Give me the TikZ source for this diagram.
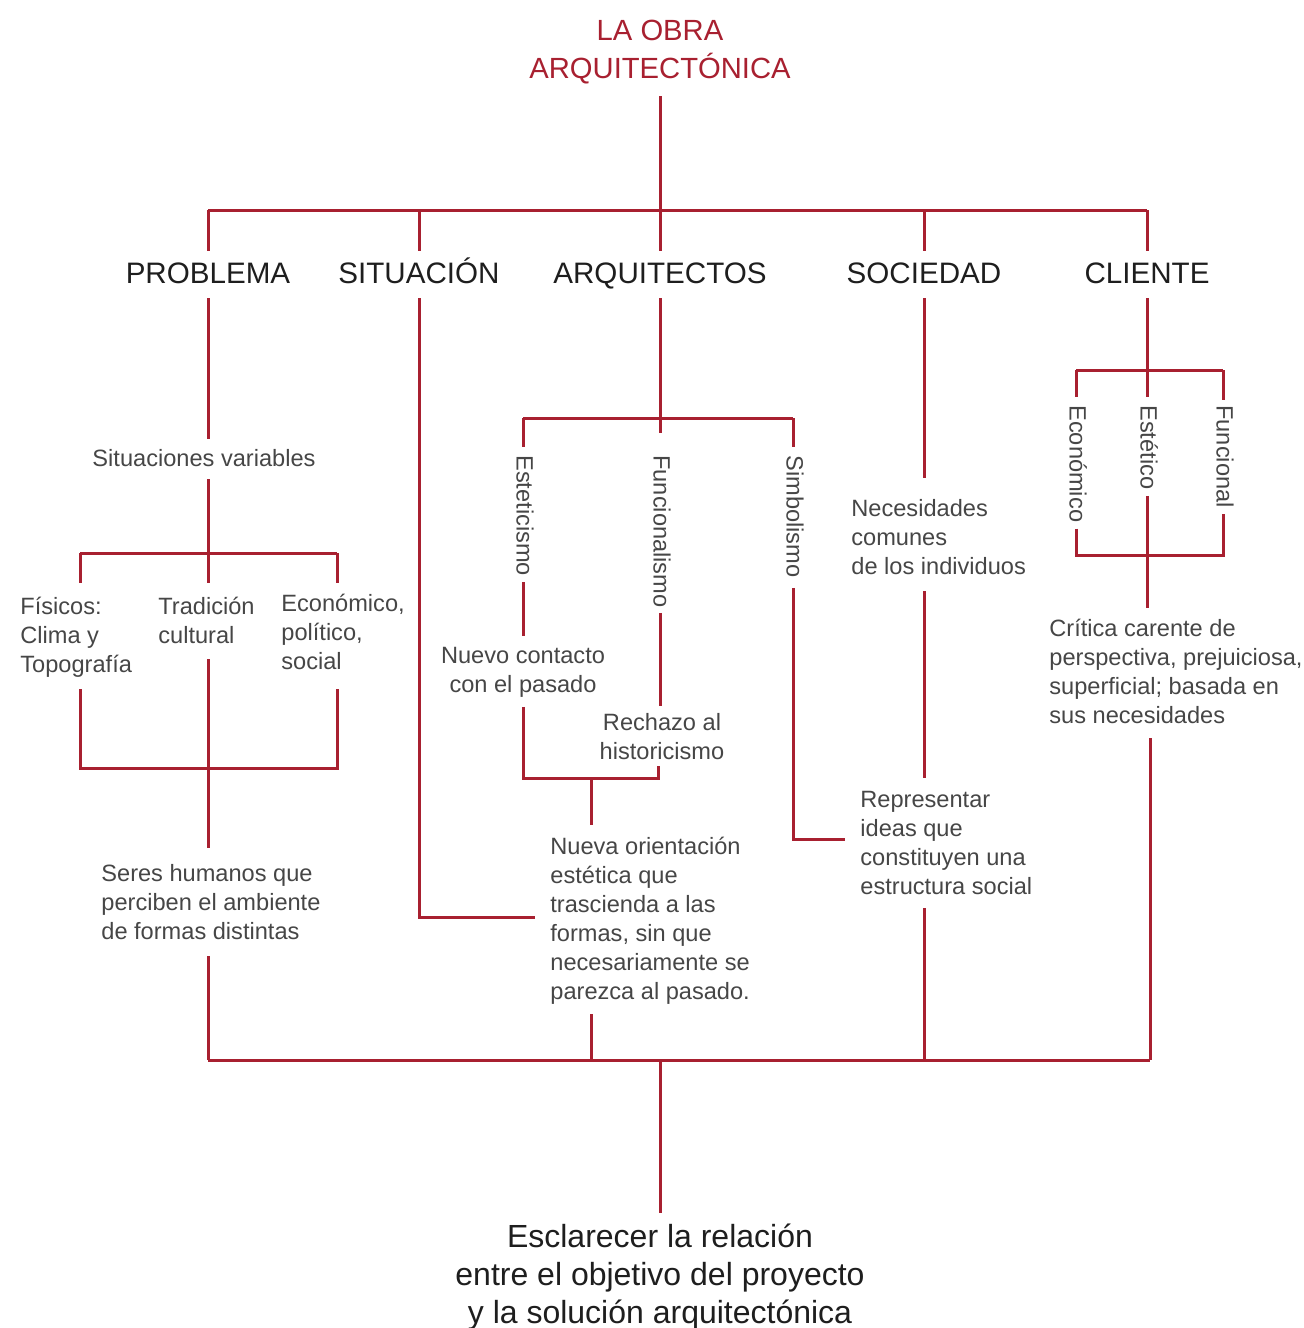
\documentclass[tikz,border=0pt]{standalone}
\usepackage{fontspec}
\setmainfont{Liberation Sans}
\definecolor{myred}{RGB}{168,32,48}
\definecolor{mygray}{RGB}{70,70,70}
\definecolor{myhead}{RGB}{30,30,30}
\begin{document}
\begin{tikzpicture}[x=0.5pt,y=-0.5pt,
  ln/.style={draw=myred,line width=1.5pt},
  titlen/.style={text=myred,font=\fontsize{14.6}{19}\selectfont,align=center,inner sep=0pt},
  head/.style={text=myhead,font=\fontsize{14.8}{17}\selectfont,inner sep=0pt,text height=11pt,text depth=1pt},
  body/.style={text=mygray,font=\fontsize{11.8}{14.5}\selectfont,inner sep=0pt,align=left},
  bodyc/.style={body,align=center},
  vert/.style={body,rotate=-90,anchor=west,text height=9pt,text depth=2.5pt},
  fin/.style={text=myhead,font=\fontsize{16}{19}\selectfont,inner sep=0pt,align=center}]
\useasboundingbox (0,0) rectangle (1303,1328);

% title and headings
\node[titlen] (title) at (660,52) {LA OBRA\\ARQUITECTÓNICA};
\node[head] (P) at (208,273) {PROBLEMA};
\node[head] (S) at (419,273) {SITUACIÓN};
\node[head] (A) at (660,273) {ARQUITECTOS};
\node[head] (So) at (924,273) {SOCIEDAD};
\node[head] (C) at (1147,273) {CLIENTE};

\coordinate (hb) at (660,210);
\draw[ln,shorten <=6pt] (title.south) -- (hb);
\draw[ln] (P.north |- hb) -- (C.north |- hb);
\foreach \n in {P,S,A,So,C} \draw[ln,shorten >=4.7pt] (\n.north |- hb) -- (\n.north);

% PROBLEMA
\node[body] (sv) at (204,458) {Situaciones variables};
\node[body,anchor=north west] (fis) at (20,597) {Físicos:\\Clima y\\Topografía};
\node[body,anchor=north west] (tra) at (158,597) {Tradición\\cultural};
\node[body,anchor=north west] (eco) at (281,594) {Económico,\\político,\\social};
\node[body,anchor=north west] (seres) at (101,864) {Seres humanos que\\perciben el ambiente\\de formas distintas};

\coordinate (pb) at (208,553);
\coordinate (pbL) at (80,553);
\coordinate (pbR) at (337,553);
\coordinate (qbL) at (80,768);
\coordinate (qbR) at (337,768);
\coordinate (bbL) at (208,1060);
\draw[ln,shorten <=6.3pt,shorten >=5pt] (P.south) -- (P.south |- sv.north);
\draw[ln,shorten <=6pt] (pb |- sv.south) -- (pb);
\draw[ln] (pbL) -- (pbR);
\draw[ln,shorten >=7pt] (pbL) -- (pbL |- fis.north);
\draw[ln,shorten >=7pt] (pb) -- (pb |- tra.north);
\draw[ln,shorten >=5.5pt] (pbR) -- (pbR |- eco.north);
\draw[ln,shorten <=5.5pt,shorten >=9.5pt] (pbL |- fis.south) -- (qbL) -- (qbR) -- (pbR |- eco.south);
\draw[ln,shorten <=7.5pt,shorten >=8pt] (pb |- tra.south) -- (pb |- seres.north);
\draw[ln,shorten <=8pt] (bbL |- seres.south) -- (bbL);

% SITUACION
\node[body,anchor=north west] (nue) at (550,837) {Nueva orientación\\estética que\\trascienda a las\\formas, sin que\\necesariamente se\\parezca al pasado.};
\coordinate (sc) at (419,917);
\draw[ln,shorten <=6.3pt,shorten >=7.5pt] (S.south) -- (sc) -- (sc -| nue.west);

% ARQUITECTOS
\coordinate (ab) at (660,418);
\coordinate (abL) at (523,418);
\coordinate (abR) at (793,418);
\draw[ln,shorten <=6.3pt] (A.south) -- (ab);
\draw[ln] (abL) -- (abR);
\node[vert] (est) at (523,455) {Esteticismo};
\node[vert] (fun) at (660,455) {Funcionalismo};
\node[vert] (sim) at (793,455) {Simbolismo};
\draw[ln,shorten >=4pt] (abL) -- (est.west);
\draw[ln,shorten >=11pt] (ab) -- (fun.west);
\draw[ln,shorten >=4pt] (abR) -- (sim.west);

\node[bodyc,anchor=north] (nuevo) at (523,647) {Nuevo contacto\\con el pasado};
\node[bodyc,anchor=north] (rech) at (662,713) {Rechazo al\\historicismo};
\draw[ln,shorten <=3pt,shorten >=5.5pt] (est.east) -- (est.east |- nuevo.north);
\draw[ln,shorten <=2.5pt,shorten >=3.5pt] (fun.east) -- (fun.east |- rech.north);

\coordinate (nbL) at (523,778);
\coordinate (nbR) at (658,778);
\coordinate (nb) at (591,778);
\coordinate (bbN) at (591,1060);
\draw[ln,shorten <=4.5pt,shorten >=3pt] (nbL |- nuevo.south) -- (nbL) -- (nbR) -- (nbR |- rech.south);
\draw[ln,shorten >=6pt] (nb) -- (nb |- nue.north);
\draw[ln,shorten <=4.5pt] (nb |- nue.south) -- (bbN);

\node[body,anchor=north west] (rep) at (860,791) {Representar\\ideas que\\constituyen una\\estructura social};
\coordinate (sc2) at (793,839);
\draw[ln,shorten <=5pt,shorten >=7.5pt] (sim.east) -- (sc2) -- (sc2 -| rep.west);

% SOCIEDAD
\node[body,anchor=north west] (nec) at (851,499) {Necesidades\\comunes\\de los individuos};
\coordinate (bbS) at (924,1060);
\draw[ln,shorten <=6.3pt,shorten >=10.5pt] (So.south) -- (So.south |- nec.north);
\draw[ln,shorten <=8pt,shorten >=6.5pt] (bbS |- nec.south) -- (bbS |- rep.north);
\draw[ln,shorten <=6.5pt] (bbS |- rep.south) -- (bbS);

% CLIENTE
\coordinate (cb) at (1147,370);
\coordinate (cbL) at (1076,370);
\coordinate (cbR) at (1223,370);
\draw[ln,shorten <=6.3pt] (C.south) -- (cb);
\draw[ln] (cbL) -- (cbR);
\node[vert] (ceco) at (1076,405) {Económico};
\node[vert] (cest) at (1147,405) {Estético};
\node[vert] (cfun) at (1223,405) {Funcional};
\draw[ln,shorten >=4pt] (cbL) -- (ceco.west);
\draw[ln,shorten >=4pt] (cb) -- (cest.west);
\draw[ln,shorten >=2.5pt] (cbR) -- (cfun.west);

\coordinate (cdL) at (1076,555);
\coordinate (cdR) at (1223,555);
\coordinate (cd) at (1147,555);
\draw[ln,shorten <=3pt,shorten >=3pt] (ceco.east) -- (cdL) -- (cdR) -- (cfun.east);
\draw[ln,shorten <=3pt] (cest.east) -- (cd);

\node[body,anchor=north west] (crit) at (1049,619) {Crítica carente de\\perspectiva, prejuiciosa,\\superficial; basada en\\sus necesidades};
\draw[ln,shorten >=5.5pt] (cd) -- (cd |- crit.north);
\coordinate (bbC) at (1150,1060);
\draw[ln,shorten <=7pt] (bbC |- crit.south) -- (bbC);

% bottom
\draw[ln] (bbL) -- (bbC);
\node[fin,anchor=north] (end) at (660,1224) {Esclarecer la relación\\entre el objetivo del proyecto\\y la solución arquitectónica};
\coordinate (bb) at (660,1060);
\draw[ln,shorten >=5.5pt] (bb) -- (bb |- end.north);
\end{tikzpicture}
\end{document}
